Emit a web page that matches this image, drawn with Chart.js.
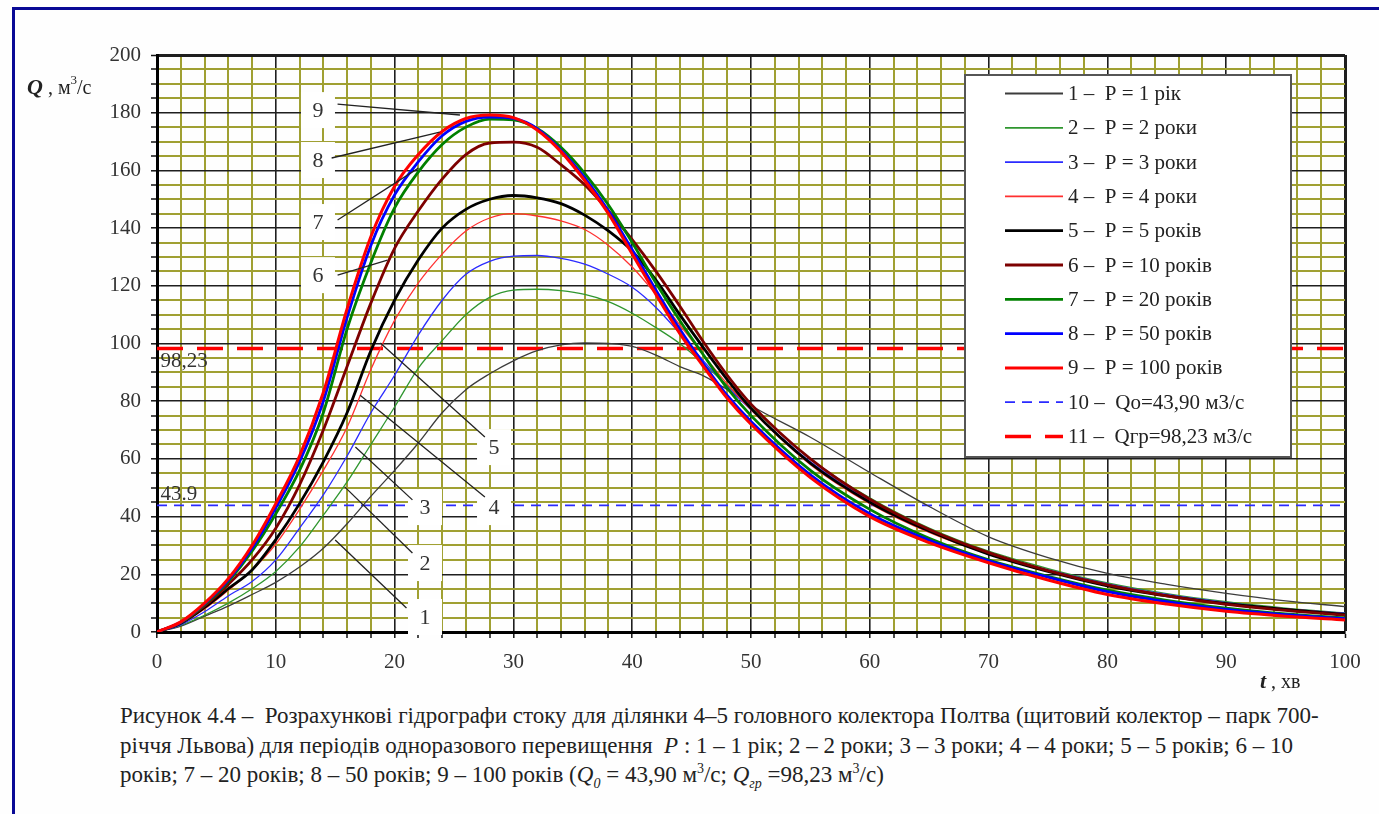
<!DOCTYPE html>
<html>
<head>
<meta charset="utf-8">
<script src="https://cdn.jsdelivr.net/npm/chart.js@4.4.1/dist/chart.umd.min.js"></script>
<style>
html, body { margin: 0; padding: 0; background: #fefefe; width: 1379px; height: 814px; overflow: hidden; }
#frame { position: absolute; left: 12px; top: 7px; width: 1420px; height: 900px; border-left: 3px solid #0a0a96; border-top: 3px solid #0a0a96; }
#chart { position: absolute; left: 0; top: 0; }
#caption { position: absolute; left: 120px; top: 701px; font-family: 'Liberation Serif', serif; font-size: 23px; line-height: 29.5px; color: #222; white-space: nowrap; }
#caption sup, #caption sub { font-size: 14px; line-height: 0; }
</style>
</head>
<body>
<div id="frame"></div>
<canvas id="chart" width="1379" height="700"></canvas>
<div id="caption">
  <div>Рисунок 4.4 –&nbsp; Розрахункові гідрографи стоку для ділянки 4–5 головного колектора Полтва (щитовий колектор – парк 700-</div>
  <div>річчя Львова) для періодів одноразового перевищення&nbsp; <i>P</i> : 1 – 1 рік; 2 – 2 роки; 3 – 3 роки; 4 – 4 роки; 5 – 5 років; 6 – 10</div>
  <div>років; 7 – 20 років; 8 – 50 років; 9 – 100 років (<i>Q</i><sub><i>0</i></sub> = 43,90 м<sup>3</sup>/с; <i>Q</i><sub><i>гр</i></sub> =98,23 м<sup>3</sup>/с)</div>
</div>
<script>
// Розрахункові гідрографи стоку, ділянка 4-5 колектора Полтва
// t, хв  ->  Q, м3/с  for return periods P = 1 ... 100 years

const tValues = [0, 2, 4, 6, 8, 10, 12, 14, 16, 18, 20, 22, 24, 26, 28, 30, 32, 34, 36, 38, 40, 42, 44, 46, 48, 50, 55, 60, 65, 70, 75, 80, 85, 90, 95, 100];

const q1   = [0, 2, 5.5, 9, 13, 17.2, 22.5, 29, 37.5, 47, 56, 65.5, 76, 84, 89.5, 94, 97.5, 99.5, 100.2, 100, 99, 96, 92, 88.8, 84, 78.5, 67.5, 55.3, 43.5, 33, 25.8, 20.3, 16.5, 13.4, 10.8, 8.8];
const q2   = [0, 2.3, 5.8, 10, 15, 21, 29.5, 40.5, 52, 65, 78, 91.5, 101, 110, 116, 118.5, 118.8, 118.3, 117, 114.5, 110.5, 105.5, 100, 93, 85.5, 78, 60, 46.5, 36, 28, 22, 17, 13.3, 10.5, 8.3, 6.6];
const q3   = [0, 2.5, 7, 12.5, 17.5, 25, 36, 47.5, 61, 76, 89, 103, 115, 124, 128.5, 130.3, 130.5, 129.5, 127.5, 124, 119.5, 112.5, 103.5, 94, 85, 77, 59, 45.5, 35.5, 27.5, 21.5, 16.7, 13, 10.2, 8, 6.5];
const q4   = [0, 3, 8, 14.5, 21.5, 30.5, 42.5, 56, 71, 91, 108, 121, 131, 139, 143.5, 145, 144.2, 142.5, 139.5, 134, 126.5, 117, 106.5, 96, 86, 77, 58, 44.5, 34.5, 27, 21, 16.3, 12.8, 10, 8, 6.3];
const q5   = [0, 3, 8.5, 15, 21.5, 32, 44.5, 59, 76, 97.5, 115, 129, 140, 146.5, 150, 151.3, 150.5, 148.5, 144.5, 139, 132, 122, 110, 98.5, 87.5, 77.5, 58.5, 45, 35, 27, 21, 16, 12.5, 9.8, 7.8, 6.1];
const q10  = [0, 3.2, 9, 16.5, 25, 36, 51, 70, 92, 114, 133, 146, 157, 165.5, 169.5, 169.8, 168, 162, 155, 146, 136, 125, 113, 100.5, 89, 79, 60, 46, 35.5, 27.5, 21.3, 16.3, 12.5, 9.6, 7.5, 5.8];
const q20  = [0, 3.3, 9.5, 17.5, 28, 41, 56, 76, 105, 128, 147, 159.5, 169, 175, 177.8, 177.5, 174.5, 168, 159, 148, 135, 121, 108, 96, 84.5, 75, 56, 42.5, 32.5, 25, 19.3, 14.5, 11, 8.3, 6.3, 4.9];
const q50  = [0, 3.4, 9.8, 18, 29, 43, 59, 80, 109, 134, 151.5, 163, 172, 177, 178.5, 178, 174.5, 167, 157.5, 146, 132.5, 118.5, 105, 93, 82, 73, 54.5, 41, 31.8, 24.7, 19, 14, 10.5, 7.8, 6, 4.6];
const q100 = [0, 3.5, 10, 18.5, 30, 44.5, 61, 83, 112, 137, 154.5, 165.5, 173.5, 178, 179.2, 178.3, 174, 166.5, 156.5, 145, 131, 117, 103.5, 92, 81, 72, 53.5, 40, 31, 24, 18, 13, 9.7, 7.2, 5.5, 4.2];

const qZero = 43.90;   // Qo
const qGr   = 98.23;   // Qгр

const seriesLabels = [
  '1 –  P = 1 рік', '2 –  P = 2 роки', '3 –  P = 3 роки', '4 –  P = 4 роки', '5 –  P = 5 років',
  '6 –  P = 10 років', '7 –  P = 20 років', '8 –  P = 50 років', '9 –  P = 100 років',
  '10 –  Qо=43,90 м3/с', '11 –  Qгр=98,23 м3/с'
];

// curve numbers written on the plot, with leader lines (t, Q)
const markNames  = ['1', '2', '3', '4', '5', '6', '7', '8', '9'];
const markAt     = [[22.56, 5.2], [22.56, 23.9], [22.56, 43.3], [28.37, 43.3], [28.37, 64.1], [13.55, 123.7], [13.55, 142.1], [13.55, 163.6], [13.55, 180.9]];
const leaderFrom = [[21.0, 8.3], [21.5, 27.4], [21.5, 45.8], [27.6, 46.8], [27.6, 67.6], [15.2, 123.7], [15.2, 142.8], [14.7, 164.3], [15.2, 183.0]];
const leaderTo   = [[15.0, 31.9], [15.8, 50.3], [16.7, 64.1], [17.1, 82.1], [18.8, 100.2], [19.4, 128.9], [22.0, 160.8], [23.8, 173.3], [25.5, 179.2]];

const levelText   = ['98,23', '43.9'];
const levelTextAt = [[0.3, 93.6], [0.3, 47.8]];

const SERIF = '"Liberation Serif", "Times New Roman", serif';

function pts(arr) { return arr.map((q, i) => ({ x: tValues[i], y: q })); }
function flat(q) { return [{ x: 0, y: q }, { x: 100, y: q }]; }

function curve(label, data, color, width, order) {
  return { label, data: pts(data), borderColor: color, borderWidth: width, pointRadius: 0,
           cubicInterpolationMode: 'monotone', fill: false, order };
}

const datasets = [
  curve(seriesLabels[0], q1,   '#3c3c3c', 1.3, 9),
  curve(seriesLabels[1], q2,   '#2f962f', 1.3, 8),
  curve(seriesLabels[2], q3,   '#2b2bff', 1.3, 7),
  curve(seriesLabels[3], q4,   '#ff3030', 1.3, 6),
  curve(seriesLabels[4], q5,   '#000000', 2.8, 5),
  curve(seriesLabels[5], q10,  '#7d0000', 2.8, 4),
  curve(seriesLabels[6], q20,  '#008000', 2.8, 3),
  curve(seriesLabels[7], q50,  '#0000ff', 2.8, 2),
  curve(seriesLabels[8], q100, '#ff0000', 3.0, 1),
  { label: seriesLabels[9],  data: flat(qZero), borderColor: '#2a2aff', borderWidth: 1.6, borderDash: [10, 7], pointRadius: 0, order: 10 },
  { label: seriesLabels[10], data: flat(qGr),   borderColor: '#ff0000', borderWidth: 3.5, borderDash: [26, 14], pointRadius: 0, order: 11 }
];

// drawn over the curves: curve numbers, level values, boxed legend, axis titles
const overlay = {
  id: 'overlay',
  afterDatasetsDraw(chart) {
    const { ctx, scales: { x, y } } = chart;
    const px = p => [x.getPixelForValue(p[0]), y.getPixelForValue(p[1])];
    ctx.save();

    ctx.font = '21px ' + SERIF;
    ctx.fillStyle = '#333';
    ctx.textAlign = 'left';
    ctx.textBaseline = 'middle';
    levelText.forEach((s, i) => { const [lx, ly] = px(levelTextAt[i]); ctx.fillText(s, lx, ly); });

    ctx.fillStyle = '#fff';
    markAt.forEach(p => { const [cx, cy] = px(p); ctx.fillRect(cx - 17, cy - 18, 34, 36); });
    ctx.strokeStyle = '#222';
    ctx.lineWidth = 1.3;
    markNames.forEach((m, i) => {
      const [ax, ay] = px(leaderFrom[i]), [bx, by] = px(leaderTo[i]);
      ctx.beginPath(); ctx.moveTo(ax, ay); ctx.lineTo(bx, by); ctx.stroke();
    });
    ctx.fillStyle = '#333';
    ctx.textAlign = 'center';
    ctx.font = '22px ' + SERIF;
    markNames.forEach((m, i) => { const [cx, cy] = px(markAt[i]); ctx.fillText(m, cx, cy + 1); });

    // legend box
    const L = 965, T = 75, W = 326, H = 382;
    ctx.fillStyle = '#fff';
    ctx.fillRect(L, T, W, H);
    ctx.strokeStyle = '#555';
    ctx.lineWidth = 2;
    ctx.strokeRect(L, T, W, H);
    ctx.font = '21px ' + SERIF;
    ctx.textAlign = 'left';
    chart.data.datasets.forEach((ds, i) => {
      const ry = 93.5 + i * 34.3;
      ctx.strokeStyle = ds.borderColor;
      ctx.lineWidth = Math.max(ds.borderWidth, 1.8);
      ctx.setLineDash(ds.borderDash || []);
      ctx.beginPath(); ctx.moveTo(1005, ry); ctx.lineTo(1063, ry); ctx.stroke();
      ctx.setLineDash([]);
      ctx.fillStyle = '#222';
      ctx.fillText(ds.label, 1068, ry + 1);
    });
    ctx.restore();
  },
  afterDraw(chart) {
    const ctx = chart.ctx;
    ctx.save();
    ctx.fillStyle = '#222';
    ctx.textBaseline = 'alphabetic';
    ctx.textAlign = 'left';
    // Q , м3/с
    let cx = 27;
    ctx.font = 'bold italic 22px ' + SERIF; ctx.fillText('Q', cx, 94); cx += ctx.measureText('Q').width;
    ctx.font = '20px ' + SERIF; ctx.fillText(' , м', cx, 94); cx += ctx.measureText(' , м').width;
    ctx.font = '13px ' + SERIF; ctx.fillText('3', cx, 84); cx += ctx.measureText('3').width;
    ctx.font = '20px ' + SERIF; ctx.fillText('/с', cx, 94);
    // t , хв
    cx = 1260;
    ctx.font = 'bold italic 22px ' + SERIF; ctx.fillText('t', cx, 688); cx += ctx.measureText('t').width;
    ctx.font = '20px ' + SERIF; ctx.fillText(' , хв', cx, 688);
    ctx.restore();
  }
};

const gridX = v => v % 10 === 0;
const gridY = v => v % 20 === 0;

new Chart(document.getElementById('chart').getContext('2d'), {
  type: 'line',
  data: { datasets },
  options: {
    responsive: false,
    animation: false,
    layout: { padding: { top: 55, right: 34, left: 0, bottom: 0 } },
    plugins: { legend: { display: false }, tooltip: { enabled: false } },
    scales: {
      x: {
        type: 'linear', min: 0, max: 100,
        afterFit: s => { s.height = 68; },
        ticks: { stepSize: 2, autoSkip: false, maxRotation: 0, maxTicksLimit: 200, padding: 12,
                 color: '#333', font: { family: SERIF, size: 21 },
                 callback: v => gridX(v) ? String(v) : '' },
        grid: {
          color: c => gridX(c.tick.value) ? '#1e1e1e' : '#a0a032',
          lineWidth: c => (c.tick.value === 100) ? 3 : gridX(c.tick.value) ? 1.6 : 2,
          tickColor: '#111', tickLength: 6, tickWidth: 1.5
        },
        border: { color: '#000', width: 3 }
      },
      y: {
        min: 0, max: 200,
        afterFit: s => { s.width = 157; },
        ticks: { stepSize: 5, autoSkip: false, maxTicksLimit: 200, padding: 10,
                 color: '#333', font: { family: SERIF, size: 21 },
                 callback: v => gridY(v) ? String(v) : '' },
        grid: {
          color: c => gridY(c.tick.value) ? '#1e1e1e' : '#a0a032',
          lineWidth: c => (c.tick.value === 200) ? 3 : gridY(c.tick.value) ? 1.6 : 2,
          tickColor: '#111', tickLength: 6, tickWidth: 1.5
        },
        border: { color: '#000', width: 3 }
      }
    }
  },
  plugins: [overlay]
});
</script>
</body>
</html>
